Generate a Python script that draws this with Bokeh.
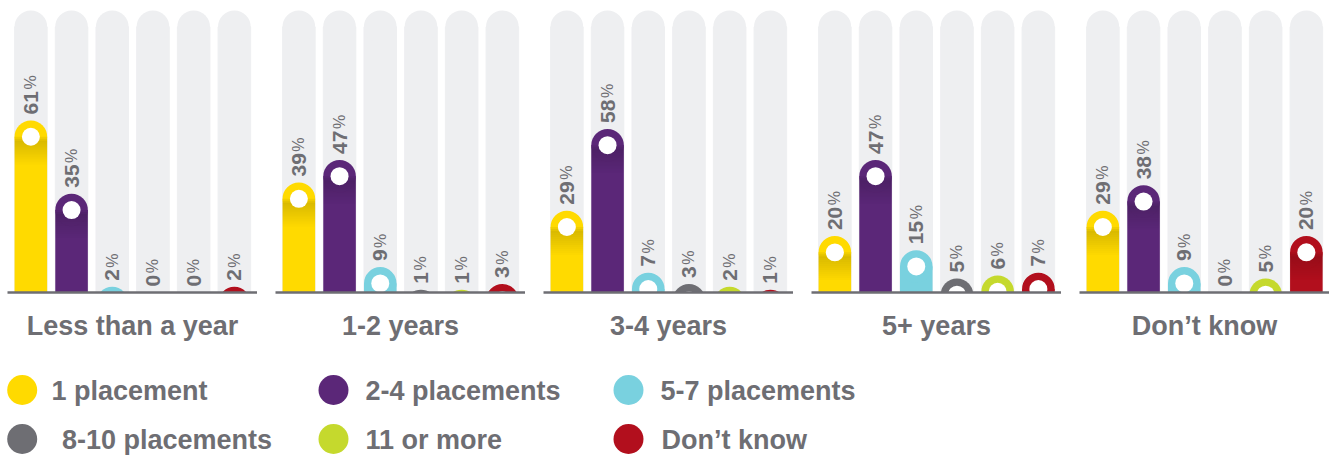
import math
import numpy as np
from bokeh.plotting import figure
from bokeh.layouts import column, row
from bokeh.models import Range1d, ColumnDataSource, FixedTicker
from bokeh.core.properties import value
from bokeh.embed import file_html
from bokeh.resources import INLINE

# ---------------- data ----------------
groups = ["Less than a year", "1-2 years", "3-4 years", "5+ years", "Don\u2019t know"]
series = ["1 placement", "2-4 placements", "5-7 placements",
          "8-10 placements", "11 or more", "Don\u2019t know"]
colors = ["#FFDA00", "#5B2778", "#79D1DF", "#6E6E73", "#C5D92D", "#B20F1D"]
values_less_than_year = [61, 35, 2, 0, 0, 2]
values_1_2_years = [39, 47, 9, 1, 1, 3]
values_3_4_years = [29, 58, 7, 3, 2, 1]
values_5_plus_years = [20, 47, 15, 5, 6, 7]
values_dont_know = [29, 38, 9, 0, 5, 20]
all_values = [values_less_than_year, values_1_2_years, values_3_4_years,
              values_5_plus_years, values_dont_know]
scale_max = 100

# ---------------- style / layout ----------------
TEXT = "#6E6E73"
BG = "#EEEFF1"
FONT = "Liberation Sans"
LEFT_PAD = 7
TOP_PAD = 8
PANEL_W = 250
SPACING = 18
FRAME_H = 284
BOTTOM_PAD = 56
PANEL_H = TOP_PAD + FRAME_H + BOTTOM_PAD
PITCH_PX = 40.7
BAR_W = 0.8
BAR_PX = BAR_W * PITCH_PX
Y_END = 100.7
PX_Y = FRAME_H / Y_END
R_UNITS = (BAR_PX / 2) / PX_Y
X0 = -0.574
NUM_FS = 21
DIGIT_W = 0.556 * NUM_FS


def make_panel(title, vals, left_pad):
    p = figure(width=PANEL_W + left_pad, height=PANEL_H, output_backend="svg",
               toolbar_location=None,
               x_range=Range1d(X0, X0 + PANEL_W / PITCH_PX),
               y_range=Range1d(0, Y_END),
               min_border_left=left_pad, min_border_right=0,
               min_border_top=TOP_PAD, min_border_bottom=BOTTOM_PAD)
    p.outline_line_color = None
    p.grid.visible = False
    p.yaxis.visible = False
    p.background_fill_color = "white"
    p.border_fill_color = "white"

    xs = list(range(len(vals)))
    v = np.array(vals, dtype=float)
    centers = v - R_UNITS
    nums = [str(int(a)) for a in vals]
    label_gap = 6.0 / PX_Y
    src = ColumnDataSource(dict(
        x=xs, v=v, c=centers, rect_top=np.maximum(centers, 0),
        color=colors, num=nums,
        num_y=v + label_gap,
        pct_y=v + label_gap + np.array([len(n) * DIGIT_W + 1.5 for n in nums]) / PX_Y,
        pct=["%"] * len(vals),
        bg_top=[scale_max - R_UNITS] * len(vals),
    ))

    # background tracks
    p.vbar(x="x", top="bg_top", bottom=0, width=BAR_W, color=BG, source=src)
    p.scatter(x="x", y="bg_top", size=BAR_PX, marker="circle", color=BG,
              line_color=None, source=src)
    # value bars
    p.vbar(x="x", top="rect_top", bottom=0, width=BAR_W, fill_color="color",
           line_color=None, source=src)
    p.scatter(x="x", y="c", size=BAR_PX, marker="circle", fill_color="color",
              line_color=None, source=src)
    # soft shading under the dot (only on bars tall enough to show it)
    n_steps = 14
    step = 2.0 / PX_Y
    tall = [i for i in xs if centers[i] * PX_Y > 30]
    if tall:
        ct = centers[tall]
        for k in range(n_steps):
            ramp = min(1.0, (k + 1) / 3.0) * (1 - k / n_steps)
            p.vbar(x=tall, top=ct - k * step, bottom=ct - (k + 1) * step,
                   width=BAR_W, fill_color="black", line_color=None,
                   fill_alpha=0.17 * ramp)
    # white dot
    p.scatter(x="x", y="c", size=18, marker="circle", fill_color="white",
              line_color=None, source=src)
    # labels
    p.text(x="x", y="num_y", text="num", angle=math.pi / 2, text_align="left",
           text_baseline="middle", text_font=value(FONT), text_font_style="bold",
           text_font_size=f"{NUM_FS}px", text_color=TEXT, source=src)
    p.text(x="x", y="pct_y", text="pct", angle=math.pi / 2, text_align="left",
           text_baseline="middle", text_font=value(FONT),
           text_font_size="16px", text_color=TEXT, source=src)

    ax = p.xaxis[0]
    ax.ticker = FixedTicker(ticks=[])
    ax.major_label_text_font_size = "0px"
    ax.major_label_standoff = 0
    ax.major_tick_line_color = None
    ax.minor_tick_line_color = None
    ax.major_tick_out = 0
    ax.axis_line_color = TEXT
    ax.axis_line_width = 2.5
    ax.axis_label = title
    ax.axis_label_text_font = FONT
    ax.axis_label_text_font_style = "bold"
    ax.axis_label_text_font_size = "27px"
    ax.axis_label_text_color = TEXT
    ax.axis_label_standoff = 18
    return p


panels = [make_panel(g, vals, LEFT_PAD if i == 0 else 0)
          for i, (g, vals) in enumerate(zip(groups, all_values))]
panel_row = row(*panels, spacing=SPACING)

# ---------------- legend ----------------
LEG_W = LEFT_PAD + 5 * PANEL_W + 4 * SPACING
LEG_H = 455 - PANEL_H
leg = figure(width=LEG_W, height=LEG_H, output_backend="svg",
             toolbar_location=None, x_range=Range1d(0, LEG_W),
             y_range=Range1d(LEG_H, 0), min_border=0)
leg.outline_line_color = None
leg.grid.visible = False
leg.axis.visible = False

row_y = [389.5 - PANEL_H, 438.5 - PANEL_H]
circle_x = [21.7, 333, 628, 21.7, 333, 628]
circle_y = [row_y[0]] * 3 + [row_y[1]] * 3
text_x = [51, 365, 660, 61.5, 365, 661]
text_y = [y + 0.5 for y in circle_y]
lsrc = ColumnDataSource(dict(cx=circle_x, cy=circle_y, tx=text_x, ty=text_y,
                             color=colors, name=series))
leg.scatter(x="cx", y="cy", size=30, marker="circle", fill_color="color",
            line_color=None, source=lsrc)
leg.text(x="tx", y="ty", text="name", text_align="left",
         text_baseline="middle", text_font=value(FONT),
         text_font_style="bold", text_font_size="27px", text_color=TEXT,
         source=lsrc)

layout = column(panel_row, leg, spacing=0)
open("out.html", "w").write(file_html(layout, INLINE))
